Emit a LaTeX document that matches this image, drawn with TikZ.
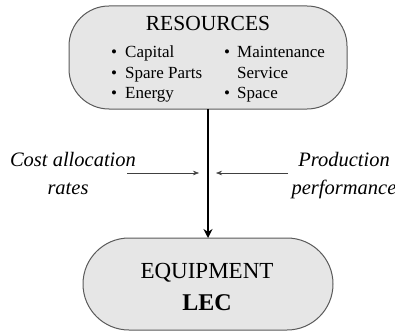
\documentclass[tikz,border=0pt]{standalone}
\usepackage{fontspec}
\setmainfont{Liberation Serif}
\usetikzlibrary{arrows.meta}
\definecolor{boxfill}{HTML}{E6E6E6}
\definecolor{boxline}{HTML}{5A5A5A}
\tikzset{
  blob/.style={draw=boxline, line width=1pt, fill=boxfill},
  item/.style={anchor=base west, font=\fontsize{17}{20}\selectfont, inner sep=0pt},
  dot/.style={anchor=base, font=\fontsize{17}{20}\selectfont, inner sep=0pt},
  side/.style={anchor=base, font=\fontsize{20.5}{24}\selectfont\itshape, inner sep=0pt},
  thin arrow/.style={-{Stealth[length=6pt,width=4.5pt]}, line width=0.5pt, draw=black!75},
  main arrow/.style={-{Stealth[length=9pt,width=9pt]}, line width=2.6pt}
}
\begin{document}
\begin{tikzpicture}[x=1pt,y=-1pt]
\useasboundingbox (0,0) rectangle (395,334);
% resources box
\draw[blob, rounded corners=40pt] (69,6) rectangle (347,109);
\node[anchor=base, inner sep=0pt, font=\fontsize{21.5}{24}\selectfont] (res) at (208,31) {RESOURCES};
% left column
\node[dot] (b1) at (114,58) {\textbullet};
\node[item] (c1) at (125,58) {Capital};
\node[dot] (b2) at (114,78) {\textbullet};
\node[item] (c2) at (125,78) {Spare Parts};
\node[dot] (b3) at (114,98) {\textbullet};
\node[item] (c3) at (125,98) {Energy};
% right column
\node[dot] (b4) at (227,58) {\textbullet};
\node[item] (d1) at (237,58) {Maintenance};
\node[item] (d2) at (237,78) {Service};
\node[dot] (b5) at (227,98) {\textbullet};
\node[item] (d3) at (237,98) {Space};
\coordinate (top) at (208,109);
% equipment box
\draw[blob, rounded corners=46pt] (83,238) rectangle (333,330);
\coordinate (bot) at (208,238);
\node[anchor=base, inner sep=0pt, font=\fontsize{23}{26}\selectfont] (eq) at (207,278) {EQUIPMENT};
\node[anchor=base, inner sep=0pt, font=\fontsize{24}{26}\selectfont\bfseries] (lec) at (207,310) {LEC};
% main flow
\draw[main arrow] (top) -- (bot);
% side labels
\node[side] (cost1) at (73,166) {Cost allocation};
\node[side] (cost2) at (68,194) {rates};
\node[side] (prod1) at (344,166) {Production};
\node[side] (prod2) at (344,194) {performance};
\coordinate (la) at (127,173);
\coordinate (lb) at (199,173);
\coordinate (ra) at (288,173);
\coordinate (rb) at (216,173);
\draw[thin arrow] (la) -- (lb);
\draw[thin arrow] (ra) -- (rb);
\end{tikzpicture}
\end{document}
